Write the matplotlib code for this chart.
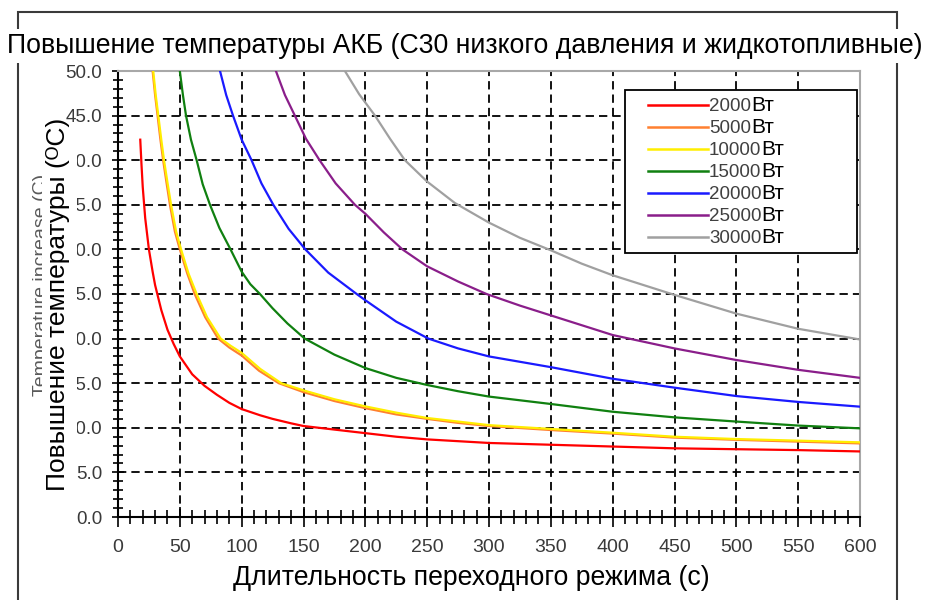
import matplotlib
matplotlib.use('Agg')
import matplotlib.pyplot as plt
from matplotlib.patches import Rectangle
from matplotlib.ticker import FormatStrFormatter, MultipleLocator

plt.rcParams['font.family'] = ['Liberation Sans', 'DejaVu Sans']

W, H = 930, 600

# series: duration (s) -> temperature rise (C)
t_2000 = [18, 19, 20, 22, 25, 28, 30, 35, 40, 45, 50, 55, 60, 70, 80, 90,
          100, 115, 125, 140, 150, 175, 200, 225, 250, 275, 300, 350, 400,
          450, 500, 550, 600]
T_2000 = [42.3, 39.5, 37.0, 33.5, 30.0, 27.5, 26.0, 23.2, 21.0, 19.4, 18.0,
          17.0, 16.0, 14.7, 13.7, 12.8, 12.1, 11.4, 11.0, 10.5, 10.2, 9.8,
          9.4, 9.0, 8.7, 8.5, 8.3, 8.1, 7.9, 7.7, 7.6, 7.5, 7.35]

t_5000 = [28, 30, 32, 34.3, 36.5, 39.2, 42, 46, 50, 56, 62, 70.5, 81, 90,
          100, 114, 130, 150, 175, 200, 225, 250, 275, 300, 350, 400, 450,
          500, 550, 600]
T_5000 = [50.0, 47.3, 45.0, 42.3, 40.0, 37.5, 35.0, 32.0, 30.0, 27.3, 25.0,
          22.4, 20.0, 19.0, 18.1, 16.4, 15.0, 14.0, 13.0, 12.2, 11.5, 11.0,
          10.55, 10.2, 9.75, 9.35, 8.9, 8.65, 8.45, 8.25]

t_10000 = [28.5, 30.5, 32.6, 35, 37.2, 40, 42.9, 47, 51, 57, 63.6, 72, 83,
           91, 100, 115, 132, 150, 175, 200, 225, 250, 275, 300, 350, 400,
           450, 500, 550, 600]
T_10000 = [50.0, 47.3, 45.0, 42.3, 40.0, 37.5, 35.0, 32.0, 30.0, 27.3, 25.0,
           22.4, 20.0, 19.2, 18.4, 16.6, 15.0, 14.2, 13.2, 12.4, 11.7, 11.1,
           10.7, 10.3, 9.87, 9.45, 9.0, 8.74, 8.56, 8.37]

t_15000 = [50, 52.5, 55, 59, 63.6, 68.5, 74.4, 82, 91, 100, 107, 114.8, 125,
           137, 151, 175, 200, 225, 250, 275, 300, 350, 400, 450, 500, 550,
           600]
T_15000 = [50.0, 47.3, 45.0, 42.3, 40.0, 37.3, 35.0, 32.4, 30.0, 27.5, 26.1,
           25.0, 23.4, 21.7, 20.0, 18.2, 16.7, 15.6, 14.8, 14.1, 13.5, 12.67,
           11.8, 11.17, 10.7, 10.25, 9.94]

t_20000 = [82.5, 87.5, 93, 100, 108, 116, 125.6, 138, 151.5, 170, 193, 200,
           225, 251, 275, 300, 350, 400, 450, 500, 550, 600]
T_20000 = [50.0, 47.3, 45.0, 42.3, 40.0, 37.4, 35.0, 32.3, 30.0, 27.4, 25.0,
           24.3, 21.9, 20.0, 18.9, 18.0, 16.8, 15.5, 14.5, 13.56, 12.9, 12.37]

t_25000 = [127.7, 135, 143, 152, 163, 176, 191.6, 200, 215, 230, 250, 275,
           298, 325, 350, 400, 450, 500, 550, 600]
T_25000 = [50.0, 47.3, 45.0, 42.4, 40.0, 37.4, 35.0, 34.0, 31.9, 30.0, 28.1,
           26.4, 25.0, 23.7, 22.6, 20.4, 18.9, 17.6, 16.5, 15.6]

t_30000 = [183.5, 195, 207.8, 220, 232, 250, 272.4, 300, 325, 350, 375, 400,
           450, 500, 550, 600]
T_30000 = [50.0, 47.4, 45.0, 42.4, 40.0, 37.6, 35.2, 33.0, 31.3, 29.9, 28.4,
           27.1, 24.9, 22.8, 21.1, 19.9]

series = [(t_2000, T_2000, '2000', '#ff0000'),
          (t_5000, T_5000, '5000', '#ff8030'),
          (t_10000, T_10000, '10000', '#ffee00'),
          (t_15000, T_15000, '15000', '#108010'),
          (t_20000, T_20000, '20000', '#1a1aff'),
          (t_25000, T_25000, '25000', '#8a1e8a'),
          (t_30000, T_30000, '30000', '#a0a0a0')]

title = 'Повышение температуры АКБ (С30 низкого давления и жидкотопливные)'
ylabel_ru = 'Повышение температуры (\u1d3cC)'
ylabel_en = 'Temperature increase (C)'
xlabel_ru = 'Длительность переходного режима (с)'
unit = 'Вт'


def fx(x):
    return x / W


def fy(y):
    return 1 - y / H


fig = plt.figure(figsize=(W / 100, H / 100), dpi=100)
ax = fig.add_axes([fx(118), fy(517), (860 - 118) / W, (517 - 71) / H])

handles = []
for t, T, name, col in series:
    ln, = ax.plot(t, T, color=col, lw=1.6, zorder=3)
    handles.append(ln)

ax.set_xlim(0, 600)
ax.set_ylim(0, 50)
ax.xaxis.set_major_locator(MultipleLocator(50))
ax.xaxis.set_minor_locator(MultipleLocator(10))
ax.yaxis.set_major_locator(MultipleLocator(5))
ax.yaxis.set_minor_locator(MultipleLocator(1))
ax.yaxis.set_major_formatter(FormatStrFormatter('%.1f'))

ax.grid(True, which='major', color='black', lw=1.3, linestyle=(0, (4.6, 2.8)))
ax.set_axisbelow(True)

for side in ['left', 'bottom']:
    ax.spines[side].set_color('black')
    ax.spines[side].set_linewidth(1.5)
for side in ['top', 'right']:
    ax.spines[side].set_color('#a8a8a8')
    ax.spines[side].set_linewidth(1.5)

ax.tick_params(which='both', direction='inout', color='black', width=1.2,
               labelcolor='#3a3a3a')
ax.tick_params(axis='x', which='major', length=14, pad=9, labelsize=14)
ax.tick_params(axis='x', which='minor', length=10)
ax.tick_params(axis='y', which='major', length=9, pad=7, labelsize=13.5)
ax.tick_params(axis='y', which='minor', length=7)

# legend: frame drawn separately so it can be wider than the labels
leg = ax.legend(handles, [s[2] for s in series], loc='upper left',
                bbox_to_anchor=(fx(648), fy(98)), bbox_transform=fig.transFigure,
                frameon=False, fontsize=13.5, handlelength=3.2, handletextpad=0.05,
                labelspacing=0.26, borderpad=0, borderaxespad=0)
leg.set_zorder(6)
for txt in leg.get_texts():
    txt.set_color('#404040')
for ln in leg.get_lines():
    ln.set_linewidth(1.8)
box = Rectangle((fx(625), fy(253)), (857 - 625) / W, (253 - 90) / H,
                transform=fig.transFigure, facecolor='white', edgecolor='black',
                lw=1.3, zorder=5, clip_on=False)
ax.add_artist(box)

# outer frame of the scanned page
fig.add_artist(Rectangle((fx(18), fy(612)), (897 - 18) / W, (612 - 12) / H,
                         transform=fig.transFigure, fill=False,
                         edgecolor='#3a3a3a', lw=1.5, zorder=1))

# original English label, mostly hidden under the pasted Russian one
fig.text(fx(46), fy(285), ylabel_en, rotation=90, rotation_mode='anchor',
         ha='center', va='baseline', fontsize=14, color='#5a5a5a', zorder=3)
fig.add_artist(Rectangle((fx(41.5), fy(496)), (77 - 41.5) / W, (496 - 124) / H,
                         transform=fig.transFigure, facecolor='white',
                         edgecolor='none', zorder=3.5))
fig.text(fx(65), fy(304), ylabel_ru, rotation=90, rotation_mode='anchor',
         ha='center', va='baseline', fontsize=19, color='black', zorder=4)
fig.text(fx(465), fy(53), title, ha='center', va='baseline', fontsize=19.2,
         color='black', zorder=4,
         bbox=dict(facecolor='white', edgecolor='none', pad=3))
fig.text(fx(471), fy(585), xlabel_ru, ha='center', va='baseline',
         fontsize=19.2, color='black')

fig.canvas.draw()
renderer = fig.canvas.get_renderer()
for txt in leg.get_texts():
    bb = txt.get_window_extent(renderer)
    fig.text(bb.x1 / W, bb.y0 / H, unit, ha='left', va='bottom',
             fontsize=15, color='black', zorder=7)

fig.savefig('out.png', dpi=100)
